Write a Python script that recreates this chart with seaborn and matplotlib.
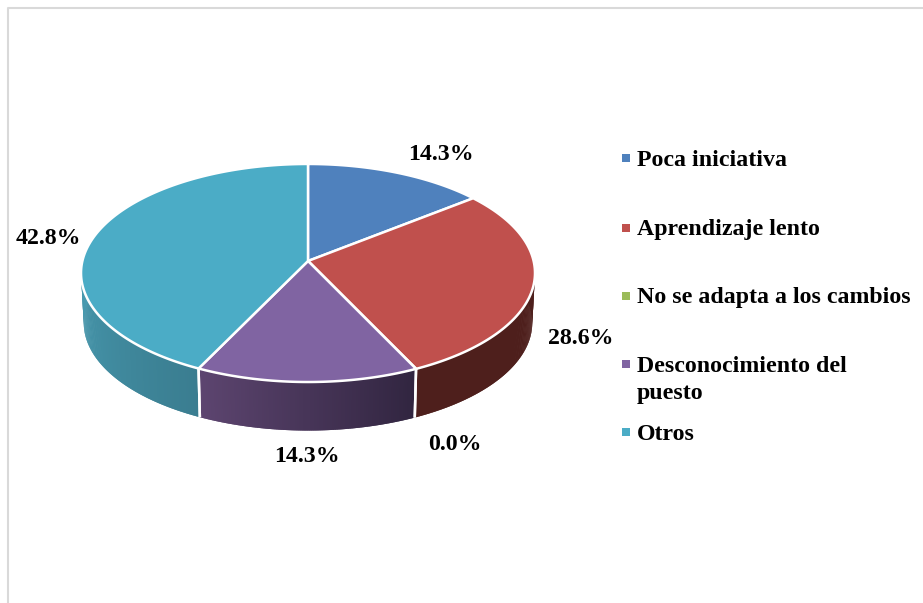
#!/usr/bin/env python3
# -*- coding: utf-8 -*-
"""Pie 3D con perspectiva, dibujado sobre ejes en pixeles"""

import numpy as np
import matplotlib.pyplot as plt
import seaborn as sns

sns.set_theme(style='white')
plt.rcParams['font.family'] = ['Liberation Serif', 'DejaVu Serif']

# datos
categorias = ['Poca iniciativa', 'Aprendizaje lento', 'No se adapta a los cambios',
              'Desconocimiento del\npuesto', 'Otros']
valores = [14.3, 28.6, 0.0, 14.3, 42.8]
etiquetas = ['14.3%', '28.6%', '0.0%', '14.3%', '42.8%']

colores = sns.color_palette(['#4f81bd', '#c0504d', '#9bbb59', '#8064a2', '#4bacc6'])
# color de la pared lateral: inicio y fin del degradado (en sentido horario)
pared_ini = ['#3a5f8c', '#4e1f1c', '#6f8a3f', '#312540', '#3a7d90']
pared_fin = ['#3a5f8c', '#4e1f1c', '#6f8a3f', '#5d4570', '#4a9fb5']

# posiciones en pixeles
pos_etiquetas = [(441, 155), (581, 339), (455, 444), (307, 457), (48, 238)]
pos_leyenda = [160, 230, 298, 380, 434]
CX, CY = 308, 261
A, B, K = 225.6, 107.7, 0.11
PROF = 50

fig = plt.figure(figsize=(9.23, 6.03), dpi=100, facecolor='white')
ax = fig.add_axes([0, 0, 1, 1])
ax.set_xlim(0, 923)
ax.set_ylim(603, 0)
ax.axis('off')


def proyectar(theta, r=1.0, dy=0.0, esc=1.0):
    # theta en grados, horario desde arriba; circulo -> elipse en perspectiva
    t = np.radians(theta)
    u, v = r * np.sin(t), r * np.cos(t)
    d = 1 + K * v
    return CX + esc * A * u / d, CY - esc * B * v / d + dy


# marco gris
ax.plot([8, 8, 923], [603, 8, 8], color='#d9d9d9', lw=1.5, solid_capstyle='butt')

cortes = np.concatenate([[0], np.cumsum(valores)]) / np.sum(valores) * 360

# paredes laterales (solo la parte frontal)
for i in range(len(valores)):
    ini, fin = max(cortes[i], 80), min(cortes[i + 1], 280)
    if fin <= ini:
        continue
    pasos = np.linspace(ini, fin, int(fin - ini) * 2 + 2)
    c0 = np.array(sns.color_palette([pared_ini[i]])[0])
    c1 = np.array(sns.color_palette([pared_fin[i]])[0])
    for j in range(len(pasos) - 1):
        f = j / max(len(pasos) - 2, 1)
        # cada tira pisa a la siguiente para que no queden rayas
        tt = np.array([pasos[j], pasos[min(j + 2, len(pasos) - 1)]])
        x1, y1 = proyectar(tt)
        x2, y2 = proyectar(tt, dy=PROF, esc=0.988)
        col = c0 * (1 - f) + c1 * f
        ax.fill(np.r_[x1, x2[::-1]], np.r_[y1, y2[::-1]], color=col, lw=0)
    # separacion blanca entre porciones
    for th in [cortes[i], cortes[i + 1]]:
        if 100 < th < 260:
            x1, y1 = proyectar(th)
            x2, y2 = proyectar(th, dy=PROF, esc=0.988)
            ax.plot([x1, x2], [y1, y2], color='white', lw=1.8, zorder=3,
                    solid_capstyle='butt')

# cara superior
for i in range(len(valores)):
    tt = np.linspace(cortes[i], cortes[i + 1], 200)
    x, y = proyectar(tt)
    ax.fill(np.r_[CX, x], np.r_[CY, y], facecolor=colores[i], edgecolor='white',
            lw=1.8, joinstyle='round', zorder=4)

# etiquetas de datos
for txt, (x, y) in zip(etiquetas, pos_etiquetas):
    ax.text(x, y, txt, ha='center', va='center', fontsize=17.2, fontweight='bold',
            color='black', zorder=5)

# leyenda
for cat, col, y in zip(categorias, colores, pos_leyenda):
    ax.scatter([626], [y - 2 if '\n' not in cat else y - 16], marker='s', s=26, color=col,
               linewidths=0, zorder=5)
    ax.text(637, y, cat, ha='left', va='center', fontsize=17.2, fontweight='bold',
            color='black', linespacing=1.32, zorder=5)

plt.savefig('out.png', dpi=100)
plt.close()
